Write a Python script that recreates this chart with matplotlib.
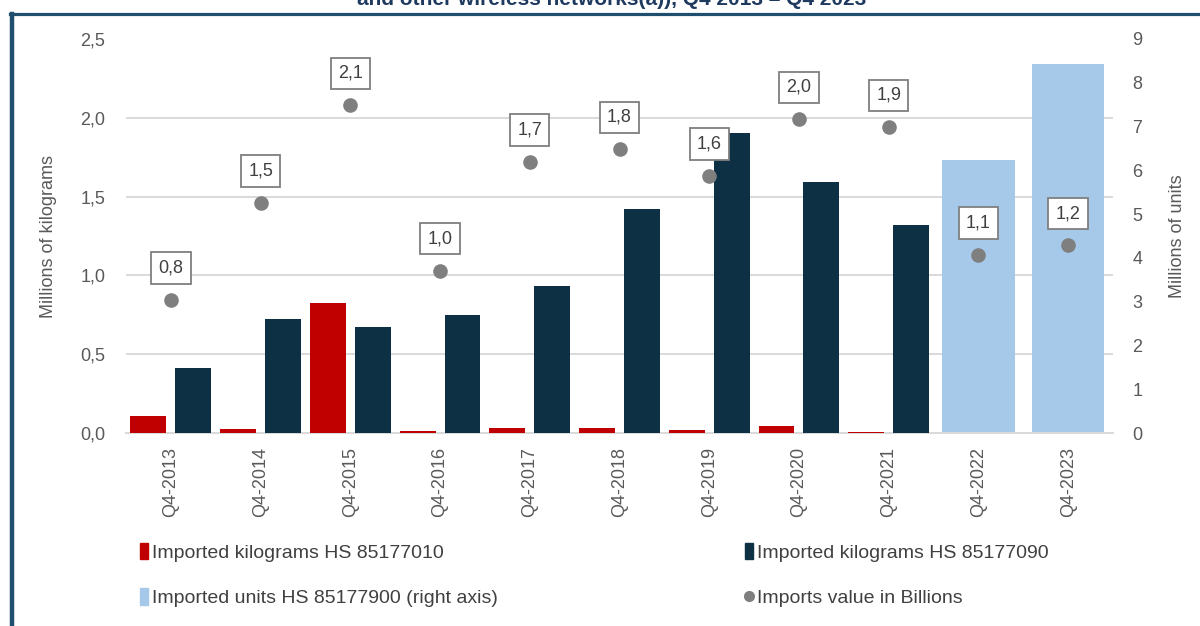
import matplotlib
matplotlib.use("Agg")
import matplotlib.pyplot as plt
from matplotlib.lines import Line2D
from matplotlib.patches import Patch
from matplotlib.ticker import FuncFormatter
import numpy as np

# data
quarters = ["Q4-2013", "Q4-2014", "Q4-2015", "Q4-2016", "Q4-2017", "Q4-2018",
            "Q4-2019", "Q4-2020", "Q4-2021", "Q4-2022", "Q4-2023"]
kg_85177010 = [0.106, 0.028, 0.825, 0.011, 0.03, 0.03, 0.021, 0.044, 0.008, 0, 0]
kg_85177090 = [0.41, 0.725, 0.67, 0.75, 0.93, 1.42, 1.905, 1.59, 1.32, 0, 0]
units_85177900 = [0, 0, 0, 0, 0, 0, 0, 0, 0, 6.24, 8.43]
value_billions = [0.844, 1.46, 2.08, 1.03, 1.72, 1.80, 1.63, 1.99, 1.94, 1.13, 1.19]

RED = "#c00000"
DARK = "#0d3045"
LIGHT = "#a6c9ea"
GREY = "#7f7f7f"
TXT = "#595959"
GRID = "#d9d9d9"

plt.rcParams["font.family"] = ["Liberation Sans", "DejaVu Sans"]

fig = plt.figure(figsize=(12, 6.26), dpi=100)
ax = fig.add_axes([0.105, 0.3083, 0.8225, 0.6294])
ax2 = ax.twinx()

x = np.arange(len(quarters))

# right axis (behind): grid + light blue bars
ax2.set_ylim(0, 9)
ax2.set_yticks(range(0, 10))
ax2.set_yticks(np.arange(0, 2.51, 0.5) * 9 / 2.5, minor=True)
ax2.grid(which="minor", axis="y", color=GRID, linewidth=1.4)
ax2.tick_params(which="minor", length=0)
ax2.bar(x, units_85177900, width=0.81, color=LIGHT, zorder=2)
ax2.tick_params(axis="y", length=0, pad=14, labelsize=13, labelcolor=TXT)
ax2.set_ylabel("Millions of units", fontsize=13, color=TXT)
ax2.yaxis.set_label_coords(1.0565, 0.5)

# left axis on top
ax.set_zorder(ax2.get_zorder() + 1)
ax.patch.set_visible(False)
ax.bar(x - 0.25, kg_85177010, width=0.4, color=RED, zorder=3)
ax.bar(x + 0.25, kg_85177090, width=0.4, color=DARK, zorder=3)
ax.scatter(x, value_billions, s=90, color=GREY, zorder=4)
for xi, v in zip(x, value_billions):
    ax.annotate(f"{v:.1f}".replace(".", ","), (xi, v), xytext=(0, 23),
                textcoords="offset points", ha="center", va="center",
                fontsize=13, color="#404040", zorder=5,
                bbox=dict(boxstyle="square,pad=0.4", fc="white", ec=GREY, lw=1.3))

ax.set_ylim(0, 2.5)
ax.set_xlim(-0.5, len(quarters) - 0.5)
ax.set_yticks(np.arange(0, 2.51, 0.5))
ax.yaxis.set_major_formatter(FuncFormatter(lambda v, p: f"{v:.1f}".replace(".", ",")))
ax.set_xticks(x)
ax.set_xticklabels(quarters, rotation=90)
ax.tick_params(axis="x", length=0, pad=10, labelsize=13, labelcolor=TXT)
ax.tick_params(axis="y", length=0, pad=15, labelsize=13, labelcolor=TXT)
ax.set_ylabel("Millions of kilograms", fontsize=13, color=TXT)
ax.yaxis.set_label_coords(-0.07, 0.5)

for a in (ax, ax2):
    for s in ("top", "left", "right"):
        a.spines[s].set_visible(False)
ax.spines["bottom"].set_color(GRID)
ax.spines["bottom"].set_linewidth(1.4)
ax2.spines["bottom"].set_visible(False)

# legend
handles = [
    Patch(color=RED, label="Imported kilograms HS 85177010"),
    Patch(color=LIGHT, label="Imported units HS 85177900 (right axis)"),
    Patch(color=DARK, label="Imported kilograms HS 85177090"),
    Line2D([], [], marker="o", linestyle="none", color=GREY, markersize=7,
           label="Imports value in Billions"),
]
leg = fig.legend(handles=handles, ncol=2, loc="upper left",
                 bbox_to_anchor=(140 / 1200, 1 - 543 / 626), frameon=False,
                 borderpad=0, borderaxespad=0, handlelength=0.42, handleheight=0.9,
                 handletextpad=0.2, columnspacing=12.7, labelspacing=1.37,
                 prop={"family": ["Liberation Sans Narrow", "Liberation Sans"], "size": 14})
for t in leg.get_texts():
    t.set_color("#404040")

# cut-off title and frame lines
fig.text(0.51, 1 - 5 / 626, "and other wireless networks(a)), Q4 2013 \u2013 Q4 2023",
         ha="center", va="baseline", fontsize=15, fontweight="bold", color="#1f3a5f")
fig.add_artist(Line2D([12 / 1200, 12 / 1200], [0, 1 - 14 / 626], transform=fig.transFigure,
                      color="#1f4e6e", linewidth=3.2))
fig.add_artist(Line2D([10 / 1200, 1], [1 - 14 / 626, 1 - 14 / 626], transform=fig.transFigure,
                      color="#1f4e6e", linewidth=2.3))

fig.savefig("out.png", dpi=100)
